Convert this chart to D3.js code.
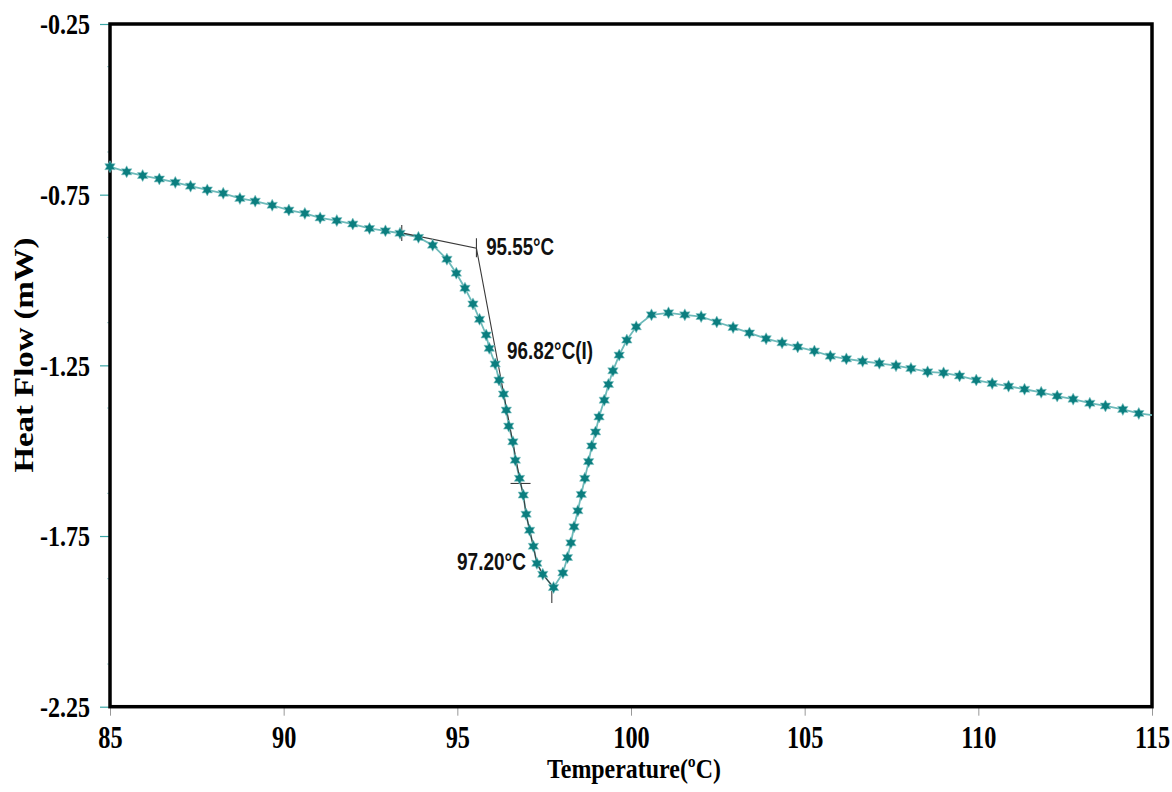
<!DOCTYPE html>
<html>
<head>
<meta charset="utf-8">
<script src="https://cdn.jsdelivr.net/npm/d3@7"></script>
<style>
  body { margin: 0; background: #fff; }
  .tick text { font-family: "Liberation Serif", "Times New Roman", serif; font-weight: bold; fill: #000; }
  .note { font-family: "Liberation Sans", Arial, sans-serif; font-weight: bold; font-size: 23px; fill: #111; }
  .title { font-family: "Liberation Serif", "Times New Roman", serif; font-weight: bold; fill: #000; }
</style>
</head>
<body>
<svg id="chart"></svg>
<script>
// DSC trace, one value per plotted star
const temperature = [
  85.00, 85.48, 85.94, 86.42, 86.88, 87.32, 87.80, 88.26, 88.74, 89.18,
  89.67, 90.15, 90.61, 91.05, 91.53, 91.99, 92.47, 92.93, 93.35, 93.88,
  94.29, 94.70, 94.97, 95.22, 95.45, 95.64, 95.83, 95.92, 96.09, 96.20,
  96.33, 96.41, 96.48, 96.60, 96.67, 96.79, 96.90, 96.98, 97.08, 97.19,
  97.29, 97.46, 97.77, 98.04, 98.17, 98.27, 98.36, 98.47, 98.57, 98.67,
  98.78, 98.87, 98.98, 99.08, 99.23, 99.35, 99.48, 99.66, 99.88, 100.15,
  100.59, 101.08, 101.55, 102.02, 102.47, 102.94, 103.41, 103.89, 104.35, 104.80,
  105.28, 105.74, 106.20, 106.67, 107.15, 107.63, 108.06, 108.54, 109.00, 109.46,
  109.94, 110.40, 110.87, 111.33, 111.81, 112.27, 112.73, 113.21, 113.66, 114.16,
  114.62, 115.00
];
const heatFlow = [
  -0.668, -0.683, -0.694, -0.704, -0.714, -0.725, -0.736, -0.746, -0.761, -0.769,
  -0.781, -0.795, -0.805, -0.818, -0.826, -0.836, -0.849, -0.856, -0.863, -0.875,
  -0.898, -0.939, -0.980, -1.024, -1.070, -1.115, -1.161, -1.200, -1.246, -1.293,
  -1.334, -1.381, -1.428, -1.474, -1.528, -1.581, -1.630, -1.686, -1.733, -1.780,
  -1.830, -1.862, -1.901, -1.858, -1.813, -1.770, -1.723, -1.676, -1.628, -1.581,
  -1.532, -1.486, -1.445, -1.401, -1.352, -1.306, -1.266, -1.220, -1.176, -1.137,
  -1.102, -1.096, -1.102, -1.107, -1.123, -1.139, -1.155, -1.172, -1.184, -1.196,
  -1.208, -1.223, -1.231, -1.238, -1.244, -1.251, -1.259, -1.269, -1.272, -1.281,
  -1.293, -1.303, -1.311, -1.320, -1.329, -1.340, -1.349, -1.361, -1.369, -1.379,
  -1.391, -1.396
];

const xTicks = [85, 90, 95, 100, 105, 110, 115];
const yTicks = [-0.25, -0.75, -1.25, -1.75, -2.25];

// onset / inflection / peak analysis marks
const baselineStart = {t: 93.40, h: -0.862};
const onset = {t: 95.55, h: -0.907};
const inflection = {t: 96.82, h: -1.596};
const peak = {t: 97.72, h: -1.911};
const notes = [
  {text: "95.55°C", t: 95.83, h: -0.926, len: 68},
  {text: "96.82°C(I)", t: 96.43, h: -1.232, len: 86},
  {text: "97.20°C", t: 94.99, h: -1.849, len: 69}
];

const W = 1172, H = 792;
const svg = d3.select("#chart").attr("width", W).attr("height", H);

const x = d3.scaleLinear().domain([85, 115]).range([110, 1152]);
const y = d3.scaleLinear().domain([-0.25, -2.25]).range([24, 706.7]);

const data = temperature.map((t, i) => ({t: t, h: heatFlow[i]}));

// x axis
const xAxis = svg.append("g")
    .attr("transform", `translate(0,${y.range()[1]})`)
    .call(d3.axisBottom(x).tickValues(xTicks).tickSize(9).tickFormat(d => d));
xAxis.select(".domain").remove();
xAxis.selectAll(".tick line").attr("stroke", "#999").attr("stroke-width", 1);
xAxis.selectAll(".tick text")
    .attr("y", 41).attr("dy", 0)
    .style("font-size", "32px")
    .attr("transform", "scale(0.76,1)");

// y axis
const yAxis = svg.append("g")
    .attr("transform", `translate(${x.range()[0]},0)`)
    .call(d3.axisLeft(y).tickValues(yTicks).tickSize(10).tickFormat(d => d.toFixed(2)));
yAxis.select(".domain").remove();
yAxis.selectAll(".tick line").attr("stroke", "#3aa6a6").attr("stroke-width", 1.2);
yAxis.selectAll(".tick text")
    .attr("x", -24).attr("dy", "0.34em")
    .style("font-size", "29px")
    .attr("transform", "scale(0.83,1)");

// faint minor ticks on the y axis
const minor = d3.range(-0.375, -2.25, -0.25);
svg.append("g").selectAll("line").data(minor).join("line")
    .attr("x1", x.range()[0] - 3).attr("x2", x.range()[0])
    .attr("y1", d => y(d)).attr("y2", d => y(d))
    .attr("stroke", "#9ccfcf").attr("stroke-width", 1);

// frame
svg.append("rect")
    .attr("x", x.range()[0]).attr("y", y.range()[0])
    .attr("width", x.range()[1] - x.range()[0])
    .attr("height", y.range()[1] - y.range()[0])
    .attr("fill", "none").attr("stroke", "#000").attr("stroke-width", 3.5);

// trace
const line = d3.line().x(d => x(d.t)).y(d => y(d.h));
svg.append("path").datum(data)
    .attr("d", line)
    .attr("fill", "none")
    .attr("stroke", "#6dbaba")
    .attr("stroke-width", 1.8);

// analysis lines
const dark = "#3a3a3a";
svg.append("path")
    .datum([baselineStart, onset, inflection])
    .attr("d", line)
    .attr("fill", "none").attr("stroke", dark).attr("stroke-width", 1.1);
svg.append("path")
    .datum(data.filter(d => d.t >= 96.79 && d.t <= 97.77))
    .attr("d", line)
    .attr("fill", "none").attr("stroke", dark).attr("stroke-width", 1.1);

const marks = svg.append("g").attr("stroke", dark).attr("stroke-width", 1.1);
marks.append("line")  // baseline crosshair
    .attr("x1", x(baselineStart.t)).attr("x2", x(baselineStart.t))
    .attr("y1", y(baselineStart.h) - 8).attr("y2", y(baselineStart.h) + 8);
marks.append("line")  // onset tick
    .attr("x1", x(onset.t)).attr("x2", x(onset.t))
    .attr("y1", y(onset.h) - 10).attr("y2", y(onset.h) + 9);
marks.append("line")  // inflection cross
    .attr("x1", x(inflection.t) - 10).attr("x2", x(inflection.t) + 10)
    .attr("y1", y(inflection.h)).attr("y2", y(inflection.h));
marks.append("line")  // peak tick
    .attr("x1", x(peak.t)).attr("x2", x(peak.t))
    .attr("y1", y(peak.h)).attr("y2", y(peak.h) + 12);

// six-point star markers
const hexagram = {
  draw(ctx, size) {
    const r = Math.sqrt(size);
    for (let i = 0; i < 12; i++) {
      const a = i * Math.PI / 6 - Math.PI / 2;
      const rr = i % 2 ? r * 0.55 : r;
      if (i === 0) ctx.moveTo(rr * Math.cos(a), rr * Math.sin(a));
      else ctx.lineTo(rr * Math.cos(a), rr * Math.sin(a));
    }
    ctx.closePath();
  }
};
svg.append("g").selectAll("path")
    .data(data.filter(d => d.t < 115))
    .join("path")
    .attr("transform", d => `translate(${x(d.t)},${y(d.h)})`)
    .attr("d", d3.symbol().type(hexagram).size(36))
    .attr("fill", "#0b7e7f")
    .attr("stroke", "#7fc4c4")
    .attr("stroke-width", 0.6);

// value labels
svg.append("g").selectAll("text").data(notes).join("text")
    .attr("class", "note")
    .attr("x", d => x(d.t)).attr("y", d => y(d.h))
    .attr("textLength", d => d.len)
    .attr("lengthAdjust", "spacingAndGlyphs")
    .text(d => d.text);

// axis titles
svg.append("text")
    .attr("class", "title")
    .attr("x", 634).attr("y", 778)
    .attr("text-anchor", "middle")
    .style("font-size", "28px")
    .attr("textLength", 174)
    .attr("lengthAdjust", "spacingAndGlyphs")
    .text("Temperature(ºC)");

svg.append("text")
    .attr("class", "title")
    .attr("transform", "translate(33,355) rotate(-90)")
    .attr("text-anchor", "middle")
    .style("font-size", "28px")
    .attr("textLength", 235)
    .attr("lengthAdjust", "spacingAndGlyphs")
    .text("Heat Flow (mW)");
</script>
</body>
</html>
